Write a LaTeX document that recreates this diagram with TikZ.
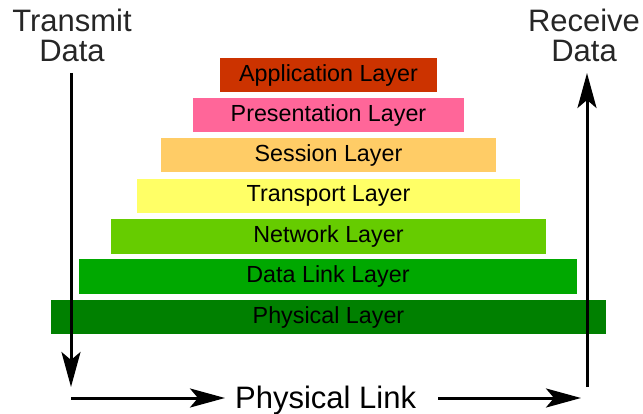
\documentclass[tikz,border=0pt]{standalone}
\usepackage{fontspec}
\setmainfont{Liberation Sans}
\usetikzlibrary{arrows.meta}
\definecolor{appc}{HTML}{CC3300}
\definecolor{presc}{HTML}{FF6699}
\definecolor{sessc}{HTML}{FFCC66}
\definecolor{transc}{HTML}{FFFF66}
\definecolor{netc}{HTML}{66CC00}
\definecolor{dlc}{HTML}{00A800}
\definecolor{physc}{HTML}{008000}
\tikzset{
  layerbox/.style={minimum height=34.5pt, inner sep=0pt, outer sep=0pt,
    font=\fontsize{23.3}{23}\selectfont, text=black},
  bigtext/.style={font=\fontsize{31}{30}\selectfont, align=center, inner sep=0pt, text=black!85},
  flow/.style={line width=3pt, -{Stealth[length=35pt, width=19pt, inset=8pt]}}
}
\begin{document}
\begin{tikzpicture}[x=1pt,y=-1pt]
\useasboundingbox (0,0) rectangle (643,414);
\node[layerbox, fill=appc,   minimum width=217pt] (app)  at (328.5,75)  {Application Layer};
\node[layerbox, fill=presc,  minimum width=271pt] (pres) at (328.5,115) {Presentation Layer};
\node[layerbox, fill=sessc,  minimum width=335pt] (sess) at (328.5,155) {Session Layer};
\node[layerbox, fill=transc, minimum width=383pt] (tran) at (328.5,196) {Transport Layer};
\node[layerbox, fill=netc,   minimum width=435pt] (net)  at (328.5,236.5) {Network Layer};
\node[layerbox, fill=dlc,    minimum width=498pt] (dl)   at (328,276.5) {Data Link Layer};
\node[layerbox, fill=physc,  minimum width=555pt] (phys) at (328.5,317) {Physical Layer};

\node[bigtext, anchor=north] (tx) at (72,9) {Transmit\\Data};
\node[bigtext, anchor=north] (rx) at (584,9) {Receive\\Data};
\node[bigtext, anchor=base west, font=\fontsize{31}{31}\selectfont, text=black] (pl) at (235,408) {Physical Link};

\coordinate (txtop) at (71,73);
\coordinate (txend) at (71,387);
\coordinate (rxstart) at (587,387);
\coordinate (rxtop) at (587,73);
\coordinate (hlstart) at (71,398);
\coordinate (hlend) at (225,398);
\coordinate (hrstart) at (438,398);
\coordinate (hrend) at (581,398);

\draw[flow] (txtop) -- (txend);
\draw[flow] (rxstart) -- (rxtop);
\draw[flow] (hlstart) -- (hlend);
\draw[flow] (hrstart) -- (hrend);
\end{tikzpicture}
\end{document}
